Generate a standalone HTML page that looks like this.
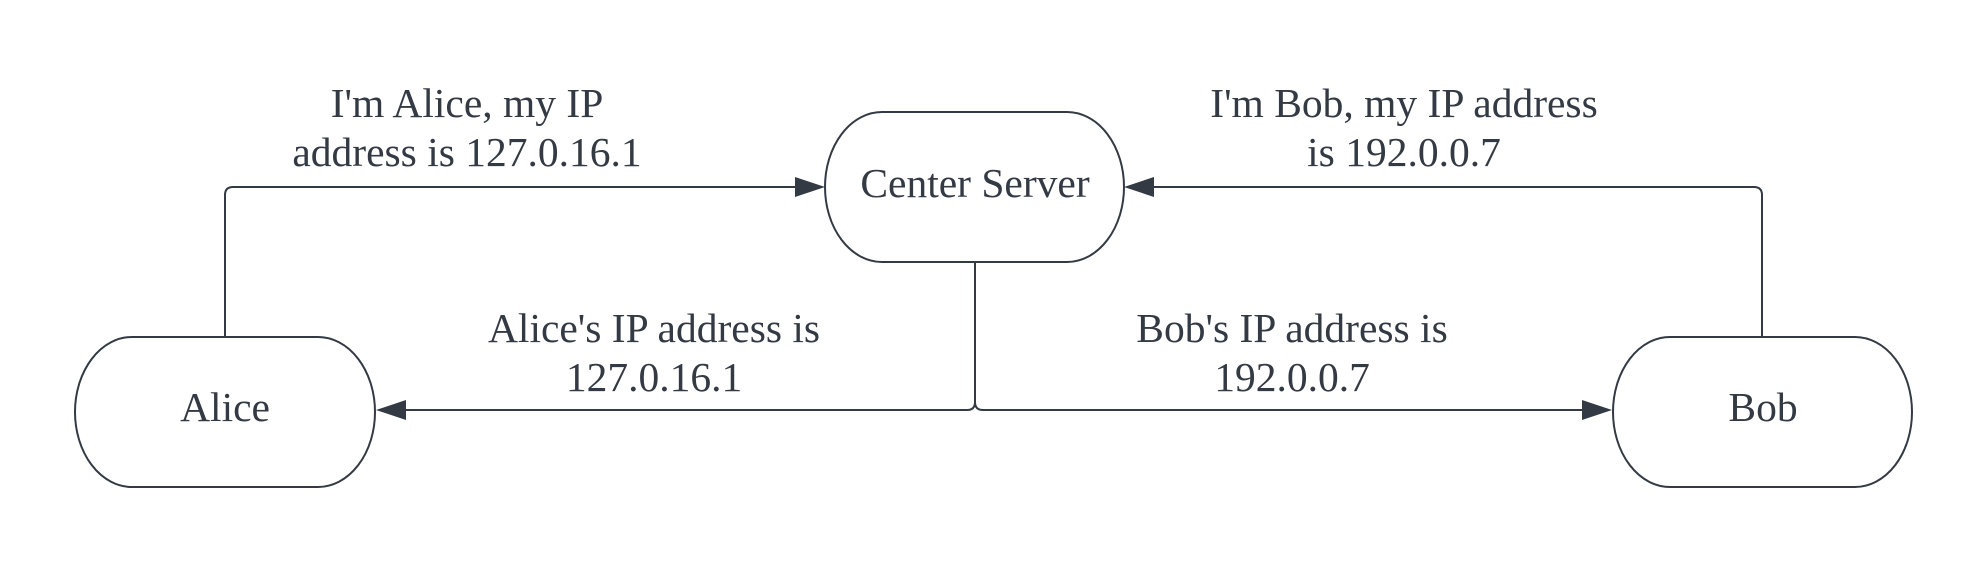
<!DOCTYPE html>
<html><head><meta charset="utf-8"><style>
html,body{margin:0;padding:0;background:#fff;}
svg{display:block}
text{font-family:"Liberation Serif",serif;font-size:41.5px;fill:#333a44;text-anchor:middle}
</style></head><body>
<svg width="1988" height="563" viewBox="0 0 1988 563" xmlns="http://www.w3.org/2000/svg">
<g fill="#fff" stroke="#333a44" stroke-width="2">
<rect x="75" y="337" width="300" height="150" rx="57" ry="75"/>
<rect x="825" y="112" width="299" height="150" rx="57" ry="75"/>
<rect x="1613" y="337" width="299" height="150" rx="57" ry="75"/>
</g>
<g fill="none" stroke="#333a44" stroke-width="2">
<path d="M225 337 V195 Q225 187 233 187 H800"/>
<path d="M1762 337 V195 Q1762 187 1754 187 H1150"/>
<path d="M975 262 V402 Q975 410 967 410 H405"/>
<path d="M975 262 V402 Q975 410 983 410 H1585"/>
</g>
<g fill="#333a44">
<polygon points="825,187 795,177 795,197"/>
<polygon points="1124,187 1154,177 1154,197"/>
<polygon points="376,410 406,400 406,420"/>
<polygon points="1612,410 1582,400 1582,420"/>
</g>
<text x="225" y="421">Alice</text>
<text x="975" y="197">Center Server</text>
<text x="1763" y="421">Bob</text>
<text x="467" y="117">I'm Alice, my IP</text>
<text x="467" y="166">address is 127.0.16.1</text>
<text x="1404" y="117">I'm Bob, my IP address</text>
<text x="1404" y="166">is 192.0.0.7</text>
<text x="654" y="342">Alice's IP address is</text>
<text x="654" y="391">127.0.16.1</text>
<text x="1292" y="342">Bob's IP address is</text>
<text x="1292" y="391">192.0.0.7</text>
</svg>
</body></html>
